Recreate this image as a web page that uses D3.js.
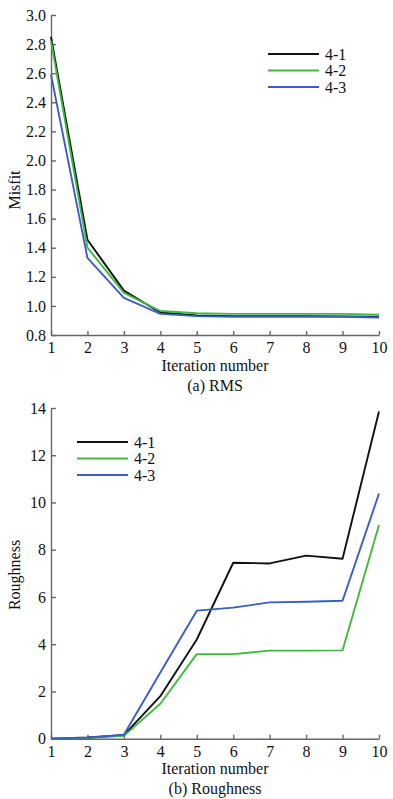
<!DOCTYPE html>
<html><head><meta charset="utf-8">
<script src="https://cdn.jsdelivr.net/npm/d3@7"></script>
<style>
body{margin:0;background:#fff;}
svg text{font-family:"Liberation Serif","Times New Roman",serif;fill:#111;}
</style></head>
<body><svg id="c" width="393" height="799"></svg>
<script>
const iterations = [1,2,3,4,5,6,7,8,9,10];
const seriesNames = ["4-1","4-2","4-3"];
const seriesColors = ["#111111","#3fba3f","#3a5ec4"];
// (a) RMS misfit
const rms41 = [2.85,1.455,1.105,0.955,0.935,0.93,0.93,0.93,0.928,0.925];
const rms42 = [2.82,1.40,1.09,0.965,0.95,0.945,0.945,0.945,0.945,0.94];
const rms43 = [2.59,1.33,1.055,0.945,0.93,0.925,0.925,0.925,0.925,0.92];
const rmsTicks = [0.8,1.0,1.2,1.4,1.6,1.8,2.0,2.2,2.4,2.6,2.8,3.0];
// (b) Roughness
const rough41 = [0,0.05,0.15,1.8,4.2,7.45,7.42,7.75,7.62,13.85];
const rough42 = [0,0.03,0.12,1.48,3.58,3.58,3.73,3.73,3.74,9.05];
const rough43 = [0,0.04,0.17,2.8,5.42,5.55,5.77,5.8,5.84,10.38];
const roughTicks = [0,2,4,6,8,10,12,14];

const svg = d3.select("#c");
const axisColor = "#666";

function panel(cfg){
  const x = d3.scaleLinear().domain([1,10]).range([51,379]);
  const y = d3.scaleLinear().domain(cfg.domain).range([cfg.bottom, cfg.top]);
  const g = svg.append("g");
  const xa = g.append("g").attr("transform",`translate(0,${cfg.bottom})`)
    .call(d3.axisBottom(x).tickValues(iterations).tickSizeInner(-4).tickSizeOuter(0).tickPadding(6).tickFormat(d3.format("d")));
  const ya = g.append("g").attr("transform","translate(51,0)")
    .call(d3.axisLeft(y).tickValues(cfg.ticks).tickSizeInner(-5).tickSizeOuter(0).tickPadding(5).tickFormat(cfg.fmt));
  [xa,ya].forEach(a=>{
    a.selectAll("path,line").attr("stroke",axisColor).attr("stroke-width",1.4);
    a.selectAll("text").style("font-size","16px").attr("fill","#111");
  });
  xa.selectAll("text").attr("dy","0.75em");
  const line = d3.line().x((d,i)=>x(iterations[i])).y(d=>y(d));
  cfg.series.forEach((s,i)=>{
    g.append("path").datum(s).attr("d",line).attr("fill","none")
      .attr("stroke",seriesColors[i]).attr("stroke-width",1.9).attr("stroke-linejoin","round");
  });
  // legend
  seriesNames.forEach((n,i)=>{
    const ly = cfg.legY + i*16.5;
    g.append("line").attr("x1",cfg.legX).attr("x2",cfg.legX+51).attr("y1",ly).attr("y2",ly)
      .attr("stroke",seriesColors[i]).attr("stroke-width",2);
    g.append("text").attr("x",cfg.legX+57).attr("y",ly).attr("dy","0.35em").style("font-size","16px").text(n);
  });
  g.append("text").attr("x",215).attr("y",cfg.bottom+30).attr("dy","0.35em").attr("text-anchor","middle")
    .style("font-size","16px").text("Iteration number");
  g.append("text").attr("x",215).attr("y",cfg.bottom+50).attr("dy","0.35em").attr("text-anchor","middle")
    .style("font-size","16px").text(cfg.caption);
  g.append("text").attr("transform",`translate(14,${cfg.labelY}) rotate(-90)`).attr("dy","0.35em")
    .attr("text-anchor","middle").style("font-size","16px").text(cfg.ylabel);
}

panel({domain:[0.8,3.0], top:15, bottom:335, ticks:rmsTicks, fmt:d3.format(".1f"),
  series:[rms41,rms42,rms43], legX:268, legY:54, caption:"(a) RMS", ylabel:"Misfit", labelY:190});
panel({domain:[0,14], top:408, bottom:738.7, ticks:roughTicks, fmt:d3.format("d"),
  series:[rough41,rough42,rough43], legX:77, legY:442, caption:"(b) Roughness", ylabel:"Roughness", labelY:575});
</script></body></html>
